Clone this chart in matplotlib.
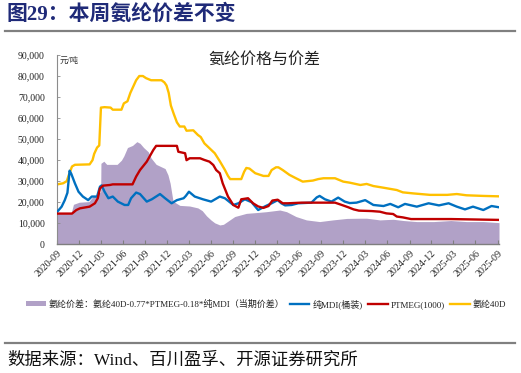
import matplotlib
matplotlib.use("Agg")
import matplotlib.pyplot as plt
import matplotlib.dates as mdates
from matplotlib.ticker import FuncFormatter, MultipleLocator
from matplotlib.lines import Line2D
import pandas as pd

# ---------------- data ----------------
spandex_dates = ['2020-09-01','2020-09-25','2020-10-10','2020-10-19','2020-11-01','2020-11-13','2021-01-13','2021-01-25',
    '2021-02-01','2021-02-13','2021-02-22','2021-03-01','2021-03-16','2021-04-10','2021-04-19','2021-05-25','2021-06-04',
    '2021-06-19','2021-07-01','2021-07-13','2021-07-25','2021-08-07','2021-08-22','2021-09-04','2021-09-25','2021-11-07',
    '2021-11-19','2021-11-28','2021-12-07','2021-12-16','2021-12-28','2022-01-10','2022-01-22','2022-02-10','2022-02-19',
    '2022-03-19','2022-04-07','2022-04-19','2022-05-04','2022-05-25','2022-06-16','2022-07-07','2022-07-28','2022-08-10',
    '2022-08-19','2022-10-04','2022-10-16','2022-10-25','2022-11-07','2022-12-01','2023-01-04','2023-01-25','2023-02-07',
    '2023-02-25','2023-03-07','2023-03-25','2023-04-22','2023-05-19','2023-06-16','2023-07-28','2023-08-19','2023-09-10',
    '2023-10-28','2023-12-01','2023-12-28','2024-02-10','2024-03-07','2024-04-04','2024-05-16','2024-07-10','2024-08-04',
    '2024-09-16','2024-11-25','2025-02-04','2025-03-16','2025-04-25','2025-07-04','2025-09-07']
spandex_40d = [28500,29000,30000,33000,37000,37800,38000,40000,43000,46000,47000,65000,65200,65000,64000,64000,67000,
    68000,72000,75000,78000,80000,80000,79000,78000,78000,77000,75500,72000,66000,62000,58000,56000,56000,54000,
    54200,52000,51000,48000,45700,43300,39500,35400,32500,31000,31000,34500,36300,36000,33800,32500,32500,35300,
    36600,36600,35300,33000,31400,29800,30300,31000,31400,31400,29800,29300,28200,28700,27700,26900,25800,24700,
    24200,23500,23500,23900,23300,23000,22800]

mdi_dates = ['2020-09-01','2020-09-19','2020-10-02','2020-10-13','2020-10-22','2020-10-29','2020-11-13','2020-11-28',
    '2020-12-16','2021-01-07','2021-01-22','2021-02-13','2021-02-25','2021-03-04','2021-03-16','2021-04-01','2021-04-19',
    '2021-05-10','2021-06-07','2021-06-22','2021-07-04','2021-07-25','2021-08-10','2021-09-07','2021-09-28','2021-11-01',
    '2021-11-22','2021-12-19','2022-01-10','2022-02-07','2022-02-16','2022-03-01','2022-03-25','2022-04-28','2022-06-01',
    '2022-07-07','2022-07-28','2022-09-01','2022-09-22','2022-10-19','2022-11-16','2022-12-13','2023-01-10','2023-02-07',
    '2023-03-04','2023-03-19','2023-04-04','2023-05-01','2023-05-28','2023-07-22','2023-08-13','2023-08-25','2023-09-16',
    '2023-10-13','2023-11-10','2023-12-07','2023-12-28','2024-01-25','2024-03-01','2024-04-04','2024-05-16','2024-06-13',
    '2024-07-16','2024-08-13','2024-10-01','2024-11-19','2025-01-01','2025-02-10','2025-03-16','2025-04-19','2025-05-22',
    '2025-07-04','2025-08-07','2025-09-07']
pure_mdi = [15500,17900,21000,24500,35000,33500,29000,25000,22700,21000,22700,22700,27400,28000,25000,21900,22700,
    20300,18700,18700,21900,24600,23900,20300,21400,23900,21900,19500,21000,21900,23000,25000,22700,21400,20300,
    22700,21900,18700,19500,21400,20000,16300,18000,19500,21000,19500,18500,18700,19500,19800,22300,23000,21400,
    20300,22200,20300,19600,19800,21000,18700,18200,19200,17600,19200,17900,19500,18500,19500,17900,16600,17900,
    16300,18200,17600]

ptmeg_dates = ['2020-09-01','2020-11-01','2020-11-19','2020-12-04','2021-01-13','2021-02-04','2021-02-16','2021-02-25',
    '2021-03-10','2021-04-07','2021-04-19','2021-07-10','2021-07-25','2021-08-10','2021-09-07','2021-10-04','2021-10-16',
    '2022-01-10','2022-01-16','2022-02-13','2022-02-19','2022-03-04','2022-04-16','2022-05-04','2022-05-25','2022-06-10',
    '2022-06-22','2022-07-07','2022-07-19','2022-08-10','2022-09-01','2022-09-22','2022-10-04','2022-11-01','2022-11-22',
    '2022-12-13','2023-01-04','2023-01-25','2023-02-10','2023-03-04','2023-03-25','2023-04-16','2023-06-10','2023-10-28',
    '2023-11-25','2023-12-22','2024-01-13','2024-02-04','2024-03-28','2024-05-01','2024-05-28','2024-06-25','2024-07-10',
    '2024-08-04','2024-09-07','2025-02-19','2025-09-07']
ptmeg = [14600,14600,16300,17100,17900,19500,21900,26600,27900,28200,28500,28500,32200,35300,39300,44800,46800,
    46800,44000,43300,40000,40900,40900,40100,39300,37700,35300,33800,29000,22700,18700,17400,21400,21900,19500,
    18000,17300,18200,20800,21200,19500,19500,19800,19800,18700,17600,16600,16000,15800,15500,14700,14400,13200,
    12800,12000,12000,11600]

spread_dates = ['2020-09-01','2020-10-28','2020-11-07','2020-12-01','2021-01-10','2021-01-25','2021-02-19','2021-02-28',
    '2021-03-01','2021-03-13','2021-03-25','2021-05-07','2021-05-25','2021-06-04','2021-06-19','2021-07-10','2021-07-28',
    '2021-08-10','2021-08-25','2021-09-13','2021-09-25','2021-10-16','2021-11-22','2021-12-04','2021-12-13','2021-12-25',
    '2022-01-22','2022-03-04','2022-04-07','2022-04-25','2022-05-13','2022-06-01','2022-06-16','2022-07-07','2022-07-22',
    '2022-08-10','2022-09-07','2022-10-25','2022-12-07','2023-01-16','2023-03-13','2023-04-10','2023-05-19','2023-07-01',
    '2023-08-25','2023-10-19','2023-12-16','2024-02-10','2024-03-07','2024-05-01','2024-06-25','2024-08-07','2024-10-01',
    '2024-12-10','2025-02-19','2025-04-25','2025-07-04','2025-09-07']
spread = [14600,14600,19000,20000,20300,22500,24000,25000,38500,39500,38000,38000,40000,42000,46000,47000,48800,
    48000,46000,44000,41000,38000,36000,33000,29000,20500,18500,18200,17300,16000,13500,11500,10200,9200,9500,
    11000,13200,14700,15100,15500,16300,15500,13200,11600,10800,11600,12300,12400,12400,11600,11900,11300,10800,
    10800,11300,10800,10800,10300]

y_ticks = [0, 10000, 20000, 30000, 40000, 50000, 60000, 70000, 80000, 90000]

# ---------------- style ----------------
SERIF_CJK = ['Liberation Serif', 'Noto Sans CJK SC']
plt.rcParams['font.family'] = SERIF_CJK
plt.rcParams['axes.unicode_minus'] = False

W, H = 521, 373
fig = plt.figure(figsize=(W / 100, H / 100), dpi=100)

def fx(px):
    return px / W

def fy(py):
    return 1 - py / H

ax = fig.add_axes([fx(57.3), fy(244.3), fx(499) - fx(57.3), fy(55) - fy(244.3)])

c_area = '#B1A1C7'
c_blue = '#0070C0'
c_red = '#C00000'
c_yel = '#FFC000'

sd = pd.to_datetime(spread_dates)
ax.fill_between(sd, 0, spread, color=c_area, lw=0, zorder=1,
                label='氨纶价差：氨纶40D-0.77*PTMEG-0.18*纯MDI（当期价差）')
ax.plot(pd.to_datetime(mdi_dates), pure_mdi, color=c_blue, lw=1.7, zorder=3, label='纯MDI(桶装)')
ax.plot(pd.to_datetime(ptmeg_dates), ptmeg, color=c_red, lw=1.7, zorder=4, label='PTMEG(1000)')
ax.plot(pd.to_datetime(spandex_dates), spandex_40d, color=c_yel, lw=1.7, zorder=2, label='氨纶40D')

ax.set_ylim(0, 90000)
ax.set_yticks(y_ticks)
ax.yaxis.set_major_formatter(FuncFormatter(lambda v, p: f'{int(v):,}'))
ax.set_xlim(pd.Timestamp('2020-09-01'), pd.Timestamp('2025-09-07'))
ax.xaxis.set_major_locator(mdates.MonthLocator(bymonth=[3, 6, 9, 12], bymonthday=1))
ax.xaxis.set_major_formatter(mdates.DateFormatter('%Y-%m'))

for s in ['top', 'right']:
    ax.spines[s].set_visible(False)
ax.spines['left'].set_color('#8C8C8C')
ax.spines['left'].set_linewidth(0.8)
ax.spines['bottom'].set_color('#7F7F7F')
ax.spines['bottom'].set_linewidth(1.0)

ax.tick_params(axis='y', direction='in', length=2.5, width=0.6, color='#8C8C8C',
               labelsize=7, labelcolor='#222222', pad=9)
ax.tick_params(axis='x', direction='in', length=3, width=0.8, color='#7F7F7F',
               labelsize=7.2, labelcolor='#222222', pad=3)
for lab in ax.get_xticklabels():
    lab.set_rotation(45)
    lab.set_ha('right')
    lab.set_va('top')
    lab.set_rotation_mode('anchor')

ax.text(fx(60) , 0, '')
fig.text(fx(60), fy(61), '元/吨', fontsize=6, color='#333333', ha='left', va='center',
         family=SERIF_CJK)

# chart title
fig.text(fx(264), fy(60), '氨纶价格与价差', fontsize=11.5, color='#222222', ha='center', va='center')

# top title and rules
fig.text(fx(7), fy(15), '图29：本周氨纶价差不变', fontsize=15, fontweight='bold', color='#1F2A78',
         ha='left', va='center')
fig.add_artist(Line2D([fx(5), fx(515)], [fy(31), fy(31)], color='#808080', lw=1.6))
fig.add_artist(Line2D([fx(5), fx(515)], [fy(343), fy(343)], color='#808080', lw=1.6))
fig.text(fx(7), fy(361), '数据来源：Wind、百川盈孚、开源证券研究所', fontsize=12.5, color='#111111',
         ha='left', va='center')

# legend
h, l = ax.get_legend_handles_labels()
order = [3, 0, 1, 2]
# put area first
handles = [h[i] for i in range(len(h))]
labels = [l[i] for i in range(len(l))]
area_idx = labels.index('氨纶价差：氨纶40D-0.77*PTMEG-0.18*纯MDI（当期价差）')
ordered = [area_idx] + [i for i in range(len(labels)) if i != area_idx]
leg = fig.legend([handles[i] for i in ordered], [labels[i] for i in ordered],
                 loc='center', bbox_to_anchor=(fx(266), fy(304)), ncol=4, frameon=False,
                 fontsize=6.5, handlelength=2.2, handleheight=0.5, handletextpad=0.3,
                 columnspacing=0.6, borderaxespad=0, borderpad=0)
for t in leg.get_texts():
    t.set_color('#222222')

fig.savefig('out.png', dpi=100)
